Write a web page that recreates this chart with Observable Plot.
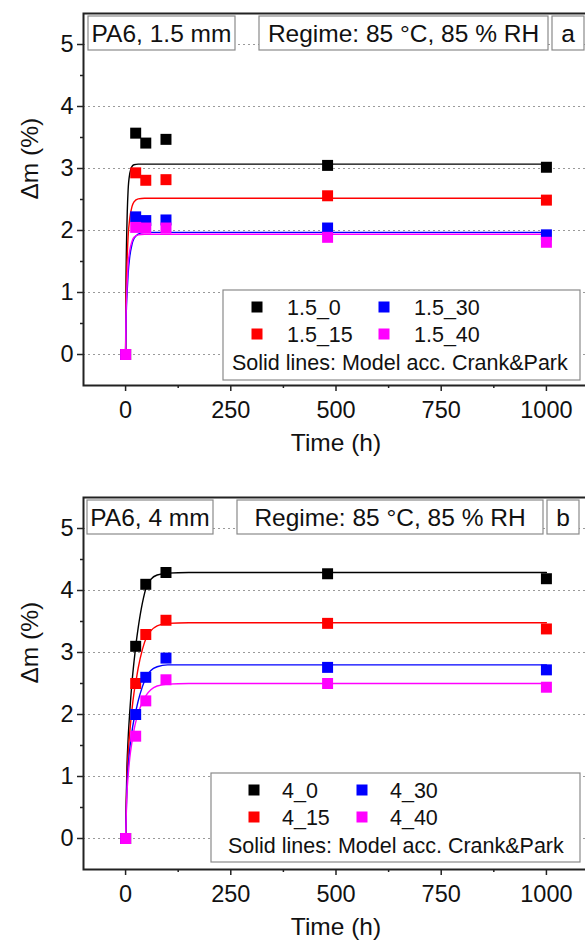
<!DOCTYPE html>
<html><head><meta charset="utf-8">
<script src="https://cdn.jsdelivr.net/npm/d3@7"></script>
<script src="https://cdn.jsdelivr.net/npm/@observablehq/plot@0.6"></script>
<style>
html,body{margin:0;padding:0;background:#fff;overflow:hidden;width:585px;height:945px}
#chart{width:590px}
svg{display:block}
</style></head><body><div id="chart"></div>
<script>
// ---------- data ----------
const times = [0, 24, 48, 96, 480, 1000];
const colors = ["#000000", "#ff0000", "#0000ff", "#ff00ff"];

const seriesA = ["1.5_0", "1.5_15", "1.5_30", "1.5_40"];
const valsA_0  = [0, 3.57, 3.41, 3.47, 3.05, 3.02];
const valsA_15 = [0, 2.93, 2.81, 2.82, 2.56, 2.49];
const valsA_30 = [0, 2.22, 2.16, 2.17, 2.04, 1.93];
const valsA_40 = [0, 2.05, 2.04, 2.04, 1.89, 1.81];

const modelTA  = [0, 1, 2, 4, 6, 10, 15, 20, 30, 45, 60, 100, 1000];
const modelA_0  = [0, 1.2, 1.7, 2.3, 2.65, 2.92, 3.03, 3.06, 3.07, 3.07, 3.07, 3.07, 3.07];
const modelA_15 = [0, 0.8, 1.15, 1.6, 1.9, 2.2, 2.38, 2.46, 2.51, 2.52, 2.52, 2.52, 2.52];
const modelA_30 = [0, 0.5, 0.75, 1.05, 1.3, 1.58, 1.77, 1.87, 1.94, 1.97, 1.97, 1.97, 1.97];
const modelA_40 = [0, 0.6, 0.85, 1.2, 1.45, 1.68, 1.82, 1.89, 1.93, 1.94, 1.94, 1.94, 1.94];

const seriesB = ["4_0", "4_15", "4_30", "4_40"];
const valsB_0  = [0, 3.10, 4.10, 4.29, 4.27, 4.19];
const valsB_15 = [0, 2.50, 3.29, 3.52, 3.47, 3.38];
const valsB_30 = [0, 2.00, 2.60, 2.91, 2.76, 2.72];
const valsB_40 = [0, 1.65, 2.22, 2.56, 2.50, 2.44];

const modelTB  = [0, 3, 6, 10, 15, 20, 25, 30, 40, 50, 60, 75, 100, 150, 1000];
const modelB_0  = [0, 1.1, 1.6, 2.05, 2.5, 2.85, 3.15, 3.4, 3.8, 4.07, 4.18, 4.25, 4.28, 4.29, 4.29];
const modelB_15 = [0, 0.95, 1.35, 1.72, 2.07, 2.35, 2.55, 2.75, 3.05, 3.25, 3.35, 3.43, 3.47, 3.48, 3.48];
const modelB_30 = [0, 0.8, 1.15, 1.45, 1.72, 1.92, 2.07, 2.22, 2.45, 2.62, 2.71, 2.77, 2.8, 2.8, 2.8];
const modelB_40 = [0, 0.7, 1.0, 1.3, 1.55, 1.75, 1.9, 2.02, 2.2, 2.32, 2.4, 2.46, 2.49, 2.5, 2.5];

const xMajor = [0, 250, 500, 750, 1000];
const xMinor = [125, 375, 625, 875];
const yMajor = [0, 1, 2, 3, 4, 5];
const yMinor = [0.5, 1.5, 2.5, 3.5, 4.5];

const xTitle = "Time (h)";
const yTitle = "Δm (%)";
const legendNote = "Solid lines: Model acc. Crank&Park";
const regime = "Regime: 85 °C, 85 % RH";

const FONT = "'Liberation Sans', Arial, Helvetica, sans-serif";
const fmt = d3.format("d");

function panel(cfg) {
  const rows = [];
  cfg.series.forEach((s, i) => cfg.vals[i].forEach((v, j) => rows.push({series: s, t: times[j], v})));
  const mrows = [];
  cfg.series.forEach((s, i) => cfg.model[i].forEach((v, j) => mrows.push({series: s, t: cfg.modelT[j], v})));

  const plot = Plot.plot({
    width: 590, height: cfg.height,
    marginLeft: 83, marginRight: 2, marginTop: 13, marginBottom: cfg.height - 13 - 372,
    style: {fontFamily: FONT, fontSize: "23.5px", color: "#222", background: "white", overflow: "visible"},
    x: {domain: [-100, 1100]},
    y: {domain: [-0.5, 5.5]},
    color: {domain: cfg.series, range: colors},
    marks: [
      Plot.gridY(yMajor, {stroke: "#9a9a9a", strokeOpacity: 1, strokeDasharray: "2,3", strokeWidth: 1}),
      Plot.line(mrows, {x: "t", y: "v", z: "series", stroke: "series", strokeWidth: 1.4, curve: "monotone-x"}),
      Plot.dot(rows, {x: "t", y: "v", fill: "series", symbol: "square", r: 6.2}),
      Plot.axisY(yMajor, {tickSize: 6, tickPadding: 4, strokeWidth: 1.5, label: null, fill: "#111", tickFormat: fmt}),
      Plot.axisY(yMinor, {tickSize: 3, tickFormat: () => "", strokeWidth: 1.5, label: null}),
      Plot.axisX(xMajor, {tickSize: 6, tickPadding: 10, strokeWidth: 1.5, label: null, fill: "#111", tickFormat: fmt}),
      Plot.axisX(xMinor, {tickSize: 3, tickFormat: () => "", strokeWidth: 1.5, label: null}),
      Plot.frame({stroke: "#222", strokeWidth: 2}),
      Plot.text([xTitle], {frameAnchor: "bottom", dy: 65, fontSize: 24.5, fill: "#111"}),
      Plot.text([yTitle], {frameAnchor: "left", dx: -53, rotate: -90, fontSize: 24.5, fill: "#111"})
    ]
  });
  document.getElementById("chart").appendChild(plot);
  const svg = d3.select(plot);
  const g = svg.append("g").attr("font-family", FONT).attr("fill", "#111").attr("text-anchor", "start");

  // annotation boxes
  cfg.boxes.forEach(b => {
    g.append("rect").attr("x", b.x1).attr("y", 16).attr("width", b.x2 - b.x1).attr("height", 34)
      .attr("fill", "white").attr("stroke", "#8a8a8a").attr("stroke-width", 1.2);
    g.append("text").attr("x", (b.x1 + b.x2) / 2).attr("y", 33).attr("dy", "0.36em")
      .attr("text-anchor", "middle").attr("font-size", 24.5).text(b.text);
  });

  // legend
  const L = cfg.legend;
  g.append("rect").attr("x", L.x1).attr("y", L.y1).attr("width", L.x2 - L.x1).attr("height", L.y2 - L.y1)
    .attr("fill", "white").attr("stroke", "#8a8a8a").attr("stroke-width", 1.2);
  const pos = [[0, 0], [0, 1], [1, 0], [1, 1]];
  cfg.series.forEach((s, i) => {
    const [c, r] = pos[i];
    const mx = L.mx[c], y = L.rows[r];
    g.append("rect").attr("x", mx - 5.5).attr("y", y - 5.5).attr("width", 11).attr("height", 11).attr("fill", colors[i]);
    g.append("text").attr("x", L.tx[c]).attr("y", y).attr("dy", "0.36em").attr("text-anchor", "start")
      .attr("font-size", 21.5).text(s);
  });
  g.append("text").attr("x", L.noteX).attr("y", L.rows[2]).attr("dy", "0.36em").attr("text-anchor", "start")
    .attr("font-size", 21.5).text(legendNote);
}

panel({
  height: 484, series: seriesA, vals: [valsA_0, valsA_15, valsA_30, valsA_40],
  modelT: modelTA, model: [modelA_0, modelA_15, modelA_30, modelA_40],
  boxes: [{x1: 88, x2: 235, text: "PA6, 1.5 mm"}, {x1: 259, x2: 548, text: regime}, {x1: 552, x2: 584, text: "a"}],
  legend: {x1: 223, x2: 580, y1: 290, y2: 380, rows: [307, 334, 362], mx: [257, 384], tx: [287, 414], noteX: 232}
});
panel({
  height: 461, series: seriesB, vals: [valsB_0, valsB_15, valsB_30, valsB_40],
  modelT: modelTB, model: [modelB_0, modelB_15, modelB_30, modelB_40],
  boxes: [{x1: 87, x2: 213, text: "PA6, 4 mm"}, {x1: 237, x2: 543, text: regime}, {x1: 547, x2: 579, text: "b"}],
  legend: {x1: 211, x2: 580, y1: 289, y2: 378, rows: [306, 333, 361], mx: [254, 362], tx: [282, 390], noteX: 228}
});
</script></body></html>
